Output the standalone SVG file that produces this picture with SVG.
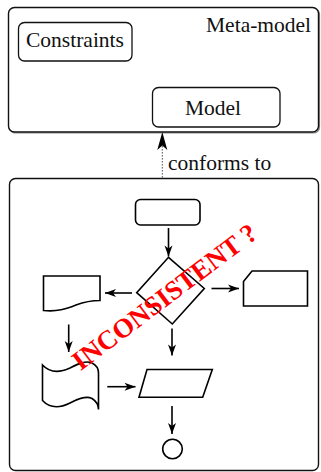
<svg xmlns="http://www.w3.org/2000/svg" width="321" height="472" viewBox="0 0 321 472">
  <style>
    .frame { fill: #fff; stroke: #111; stroke-width: 1.4; }
    .box { fill: #fff; stroke: #111; stroke-width: 1.3; }
    .shape { fill: #fff; stroke: #000; stroke-width: 1.6; stroke-linejoin: miter; }
    .label { font-family: "Liberation Serif", "Times New Roman", serif; font-size: 21.5px; fill: #111; }
    .flow { stroke: #000; stroke-width: 1.6; fill: none; marker-end: url(#stealth); }
    .conf { stroke: #555; stroke-width: 1; stroke-dasharray: 1.6 1.4; fill: none; }
    .warn { font-family: "Liberation Serif", "Times New Roman", serif; font-size: 27px; font-weight: bold; fill: #ff0000; }
  </style>
  <defs>
    <marker id="stealth" markerUnits="userSpaceOnUse" markerWidth="14" markerHeight="10" viewBox="-12 -5 13 10" refX="0" refY="0" orient="auto">
      <path d="M0,0 L-11,-4 L-8,0 L-11,4 Z" fill="#000"/>
    </marker>
  </defs>

  <!-- meta-model container -->
  <g id="metamodel">
    <rect x="9.5" y="8.5" width="310" height="124.5" rx="6" fill="none" stroke="#888" stroke-width="1.2"/>
    <rect class="frame" x="8.5" y="7.5" width="310" height="124.5" rx="6"/>
    <text class="label" x="206" y="32">Meta-model</text>
  </g>
  <g id="constraints">
    <rect class="box" x="18.5" y="22.5" width="113.5" height="38.5" rx="6"/>
    <text class="label" x="75" y="47" text-anchor="middle">Constraints</text>
  </g>
  <g id="model">
    <rect class="box" x="152.5" y="87.5" width="127.5" height="39.5" rx="6"/>
    <text class="label" x="213" y="115" text-anchor="middle">Model</text>
  </g>

  <!-- flowchart container -->
  <g id="flowchart">
    <rect class="frame" x="9.5" y="178.5" width="309" height="292" rx="6"/>
  </g>
  <g id="start">
    <rect class="shape" x="135.5" y="199.5" width="64.5" height="25.5" rx="5"/>
  </g>
  <g id="decision">
    <polygon class="shape" points="168.5,257.3 204.3,288.5 172.3,324 136.7,292.7"/>
  </g>
  <g id="document">
    <path class="shape" d="M43.5,276 H100 V300.5 C90,300.5 84,302 76,305 C66,309 57,312 43.5,310.5 Z"/>
  </g>
  <g id="card">
    <polygon class="shape" points="252,271 307.5,271 307.5,306 243.5,306 243.5,281.5"/>
  </g>
  <g id="tape">
    <path class="shape" d="M42.5,365 C49,372 59,373 70,368 C78,364 86,360 92,363 C96,365 98.5,369 98.5,373 V409.5 C98.5,405 96,401 92,398.5 C86,395.5 78,399 70,403 C60,408 50,408.5 42.5,400.5 Z"/>
  </g>
  <g id="io">
    <polygon class="shape" points="147,369.5 212.3,369.5 202.7,397.3 139,397.3"/>
  </g>
  <g id="end">
    <circle class="shape" cx="172.5" cy="449" r="9.8"/>
  </g>

  <!-- connectors -->
  <g id="connectors">
    <line class="conf" x1="162.3" y1="146" x2="162.3" y2="178"/>
    <path d="M162.3,132 L157.3,150 L162.3,145.5 L167.3,150 Z" fill="#000"/>
    <text class="label" x="168" y="170">conforms to</text>
    <line class="flow" x1="168.5" y1="228" x2="168.5" y2="256.5"/>
    <line class="flow" x1="132" y1="293" x2="105" y2="293"/>
    <line class="flow" x1="211.5" y1="288.5" x2="239" y2="288.5"/>
    <line class="flow" x1="68.7" y1="324.5" x2="68.7" y2="352"/>
    <line class="flow" x1="172" y1="328.5" x2="172" y2="355.5"/>
    <line class="flow" x1="107.3" y1="386.7" x2="135.5" y2="386.7"/>
    <line class="flow" x1="172" y1="406" x2="172" y2="434"/>
  </g>

  <!-- overlay stamp -->
  <text class="warn" x="170" y="304" text-anchor="middle" transform="rotate(-37 170 304)">INCONSISTENT ?</text>
</svg>
